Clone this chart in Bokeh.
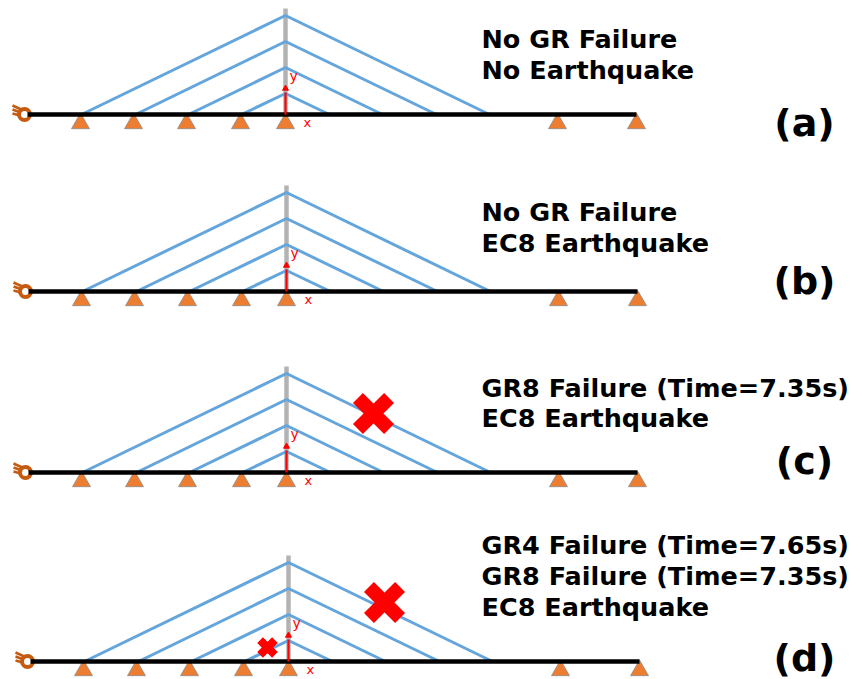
from bokeh.embed import file_html
from bokeh.resources import INLINE
from bokeh.plotting import figure
from bokeh.core.properties import value
from bokeh.models import Range1d

# Panels: pylon x, deck y, panel tag, tag y
panel_tags = ["(a)", "(b)", "(c)", "(d)"]
pylon_x = [285, 286, 286, 288]
deck_y = [114, 291, 472, 661]
tag_y = [122, 280, 460, 657]

# Bridge geometry, relative to pylon foot
cable_tower_h = [21, 47, 73, 99]
cable_left = [-44, -97, -150, -204]
cable_right = [44, 97, 151, 204]
support_x = [-205, -152, -99, -45, 0, 272, 351]
deck_left, deck_right = -258, 351
pylon_top = 106

# Annotation text
panel_lines = [
    ["No GR Failure", "No Earthquake"],
    ["No GR Failure", "EC8 Earthquake"],
    ["GR8 Failure (Time=7.35s)", "EC8 Earthquake"],
    ["GR4 Failure (Time=7.65s)", "GR8 Failure (Time=7.35s)", "EC8 Earthquake"],
]
line_y = [[38, 69], [211, 242], [387, 417], [544, 575, 606]]

# Failure marks: x, y, size
fail_x = [373, 384, 267]
fail_y = [413, 602, 647]
fail_size = [44, 44, 21]

BLUE = "#64a5dc"
ORANGE = "#ed7d31"
RUST = "#c55a11"
RED = "#ff0000"
FONT = value("DejaVu Sans")

p = figure(width=851, height=679, output_backend="svg", toolbar_location=None,
           x_range=Range1d(0, 851), y_range=Range1d(679, 0),
           min_border=0, outline_line_color=None)
p.xaxis.visible = False
p.yaxis.visible = False
p.grid.visible = False

for i in range(4):
    px, dy = pylon_x[i], deck_y[i]
    # pylon
    p.line([px, px], [dy, dy - pylon_top], line_color="#b3b3b3", line_width=4.5)
    # cables
    for h, l, r in zip(cable_tower_h, cable_left, cable_right):
        p.line([px + l, px, px + r], [dy, dy - h, dy], line_color=BLUE, line_width=3)
    # supports
    p.scatter([px + s for s in support_x], [dy + 9] * len(support_x), marker="triangle",
              size=18, fill_color=ORANGE, line_color="#8a8a8a", line_width=0.8)
    # pinned end: three short strokes behind the hinge
    ex = px + deck_left
    for ddy0, ddy1 in zip([-9, -5, -1], [-4, -1, 2]):
        p.line([ex - 15, ex - 4], [dy + ddy0, dy + ddy1], line_color=RUST, line_width=2.6)
    p.scatter([ex - 3], [dy], marker="circle", size=11, fill_color="white",
              line_color=RUST, line_width=4)
    # deck
    p.line([ex, px + deck_right], [dy, dy], line_color="black", line_width=4.5)
    # axes arrow
    p.line([px, px], [dy, dy - 22], line_color=RED, line_width=2.2)
    p.scatter([px], [dy - 26], marker="triangle", size=6, fill_color=RED, line_color=RED)
    p.text([px + 4], [dy - 39], text=["y"], text_color=RED, text_font=FONT, text_font_size="14px",
           text_baseline="middle", text_align="left")
    p.text([px + 18], [dy + 8], text=["x"], text_color=RED, text_font=FONT, text_font_size="13px",
           text_baseline="middle", text_align="left")
    # tag
    p.text([804], [tag_y[i]], text=[panel_tags[i]], text_color="black", text_font=FONT,
           text_font_style="bold", text_font_size="38px", text_baseline="middle", text_align="center")
    # description
    p.text([481] * len(line_y[i]), line_y[i], text=panel_lines[i], text_color="black", text_font=FONT,
           text_font_style="bold", text_font_size="25.5px", text_baseline="middle", text_align="left")

p.scatter(fail_x, fail_y, marker="x", size=fail_size, line_color=RED,
          line_width=[14, 14, 8])

open("out.html", "w").write(file_html(p, INLINE))
